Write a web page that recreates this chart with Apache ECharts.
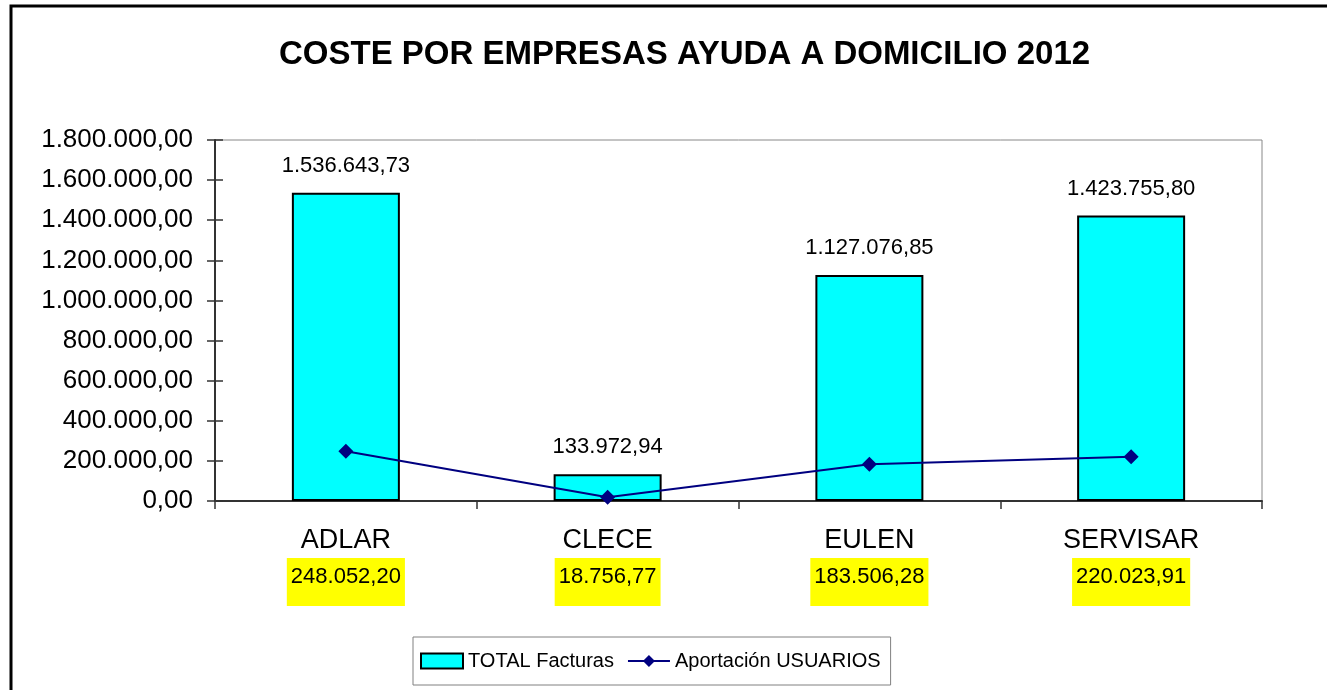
<!DOCTYPE html>
<html>
<head>
<meta charset="utf-8">
<script src="https://cdn.jsdelivr.net/npm/echarts@6/dist/echarts.min.js"></script>
<style>
  html, body { margin: 0; padding: 0; background: #fff; }
  #main { width: 1327px; height: 690px; }
</style>
</head>
<body>
<div id="main"></div>
<script>
var empresas = ['ADLAR', 'CLECE', 'EULEN', 'SERVISAR'];
var totalFacturas = [1536643.73, 133972.94, 1127076.85, 1423755.80];
var aportacionUsuarios = [248052.20, 18756.77, 183506.28, 220023.91];
var yMax = 1800000;
var yStep = 200000;

var chart = echarts.init(document.getElementById('main'));

// 1234567.8 -> 1.234.567,80
function fmt(v) {
    var parts = Number(v).toFixed(2).split('.');
    var ent = parts[0].replace(/\B(?=(\d{3})+(?!\d))/g, '.');
    return ent + ',' + parts[1];
}

var font = 'Liberation Sans, Arial, sans-serif';

option = {
    animation: false,
    textStyle: { fontFamily: font },
    title: {
        text: 'COSTE POR EMPRESAS AYUDA A DOMICILIO 2012',
        left: 274,
        top: 33,
        textStyle: { fontSize: 33, fontWeight: 'bold', color: '#000', fontFamily: font }
    },
    legend: {
        left: 413,
        top: 637,
        padding: [14, 10, 14, 7],
        itemGap: 13,
        itemWidth: 42,
        itemHeight: 15,
        borderColor: '#808080',
        borderWidth: 1,
        textStyle: { fontSize: 20, color: '#000', fontFamily: font },
        data: [
            { name: 'TOTAL Facturas', icon: 'rect' },
            { name: 'Aportación USUARIOS' }
        ]
    },
    grid: {
        left: 215,
        right: 65,
        top: 140,
        bottom: 189,
        show: true,
        borderColor: '#888',
        borderWidth: 1
    },
    xAxis: {
        type: 'category',
        data: empresas,
        axisLine: { lineStyle: { color: '#333', width: 2 } },
        axisTick: { show: true, length: 8, lineStyle: { color: '#333', width: 1.5 } },
        axisLabel: {
            margin: 12,
            formatter: function (name, i) {
                return '{n|' + name + '}\n{v|' + fmt(aportacionUsuarios[i]) + '}';
            },
            rich: {
                n: { fontSize: 27, color: '#000', lineHeight: 56, fontFamily: font },
                v: {
                    fontSize: 22, color: '#000', fontFamily: font,
                    backgroundColor: '#ffff00',
                    padding: [8, 4, 18, 4],
                    lineHeight: 26
                }
            }
        }
    },
    yAxis: [{
        type: 'value',
        min: 0,
        max: yMax,
        interval: yStep,
        splitLine: { show: false },
        axisLine: { show: true, lineStyle: { color: '#333', width: 2 } },
        axisTick: { show: true, length: 8, lineStyle: { color: '#333', width: 1.5 } },
        axisLabel: {
            margin: 22,
            fontSize: 26,
            color: '#000',
            fontFamily: font,
            formatter: function (v) { return fmt(v); }
        }
    }, {
        type: 'value',
        position: 'left',
        min: 0,
        max: yMax,
        interval: yStep,
        splitLine: { show: false },
        axisLine: { show: false },
        axisTick: { show: true, inside: true, length: 8, lineStyle: { color: '#333', width: 1.5 } },
        axisLabel: { show: false }
    }],
    series: [
        {
            name: 'TOTAL Facturas',
            type: 'bar',
            data: totalFacturas,
            barWidth: 108,
            itemStyle: { color: '#00ffff', borderColor: '#000', borderWidth: 2 },
            label: {
                show: true,
                position: 'top',
                distance: 16,
                fontSize: 22,
                color: '#000',
                fontFamily: font,
                formatter: function (p) { return fmt(p.value); }
            }
        },
        {
            name: 'Aportación USUARIOS',
            type: 'line',
            data: aportacionUsuarios,
            symbol: 'diamond',
            symbolSize: 15,
            itemStyle: { color: '#000080' },
            lineStyle: { color: '#000080', width: 2 },
            z: 3
        }
    ],
    graphic: [{
        type: 'rect',
        shape: { x: 11, y: 6, width: 1340, height: 720 },
        style: { fill: 'none', stroke: '#000', lineWidth: 3 },
        silent: true
    }]
};

chart.setOption(option);
</script>
</body>
</html>
